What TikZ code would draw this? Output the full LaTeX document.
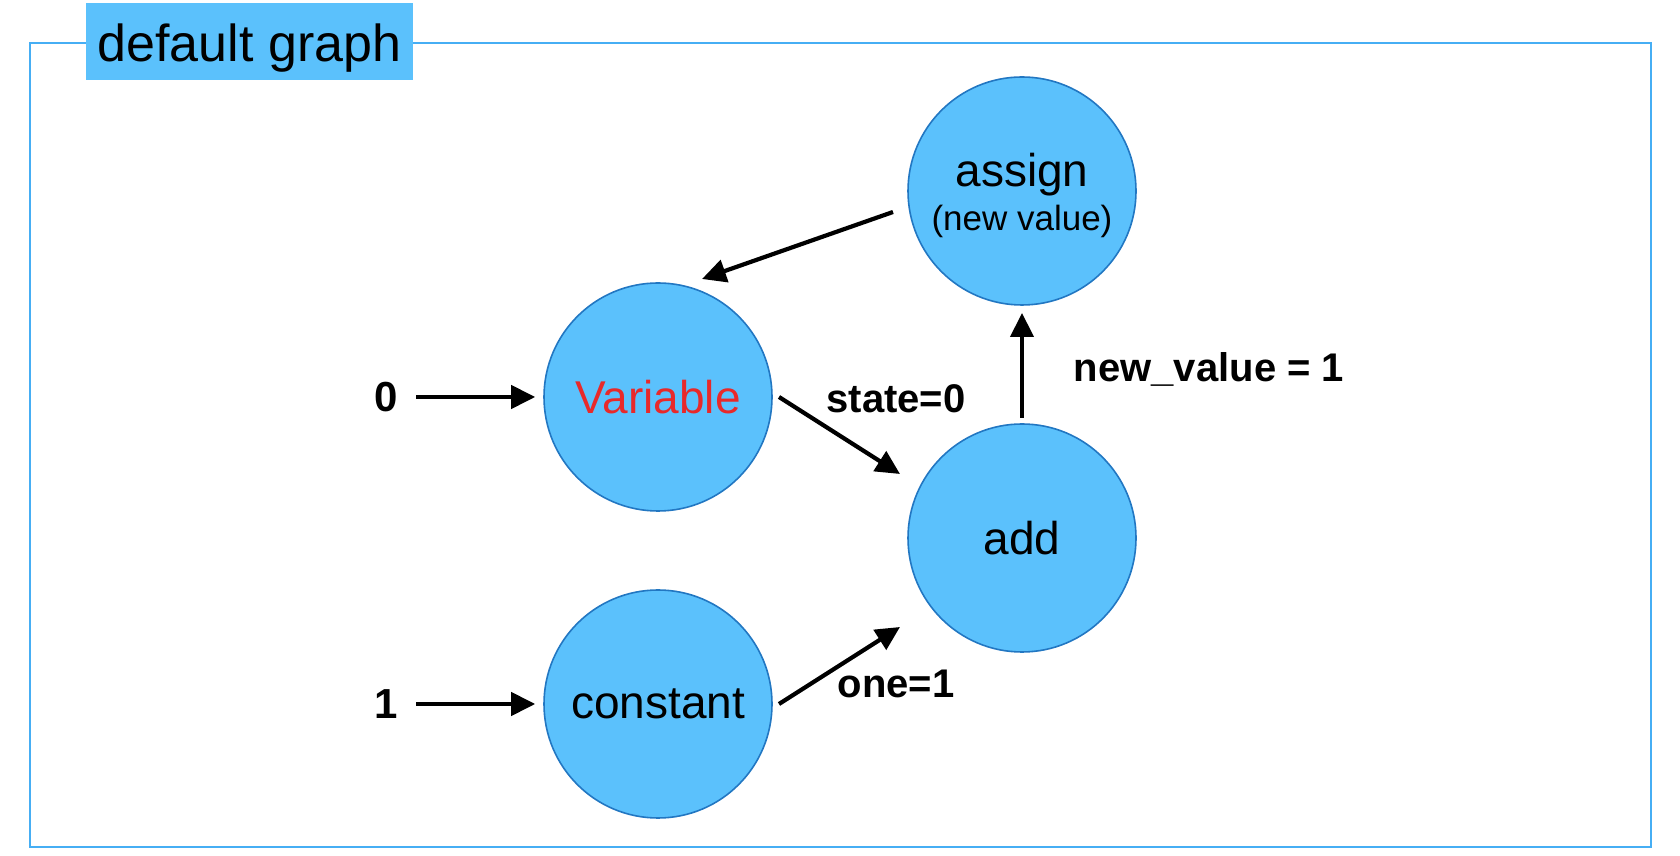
\documentclass[tikz,border=0pt]{standalone}
\usepackage{fontspec}
\setmainfont{Liberation Sans}
\usetikzlibrary{arrows.meta,calc}
\definecolor{nodefill}{HTML}{5BC1FC}
\definecolor{nodeedge}{HTML}{2277C2}
\definecolor{framecol}{HTML}{46AEF4}
\definecolor{varred}{HTML}{E8292A}
\tikzset{
  opnode/.style={circle, minimum size=228pt, inner sep=0pt, fill=nodefill, draw=nodeedge, line width=1.6pt, font=\fontsize{46}{55}\selectfont},
  nodetext/.style={inner sep=0pt, anchor=base},
  edgelabel/.style={inner sep=0pt, font=\fontsize{40}{48}\selectfont\bfseries},
  inlabel/.style={inner sep=0pt, font=\fontsize{42}{50}\selectfont\bfseries},
  arr/.style={line width=4.2pt, -{Triangle[length=24pt,width=23pt]}},
}
\begin{document}
\begin{tikzpicture}[x=1pt,y=1pt]
\useasboundingbox (0,0) rectangle (1680,856);
% frame
\draw[framecol, line width=2.2pt] (30,813) rectangle (1651,9);
\node[fill=nodefill, minimum width=327pt, minimum height=77pt, inner sep=0pt] (title) at (249.5,814.5) {};
\node[nodetext, font=\fontsize{52}{62}\selectfont] (titletext) at ([yshift=-20pt]title.center) {default graph};
% nodes
\node[opnode, text=varred] (var) at (658,459) {Variable};
\node[opnode] (const) at (658,152) {constant};
\node[opnode] (add) at (1022,318) {add};
\node[opnode] (assign) at (1022,665) {};
\node[nodetext, font=\fontsize{46}{55}\selectfont] (assignname) at ([yshift=4pt]assign.center) {assign};
\node[nodetext, font=\fontsize{35}{42}\selectfont] (assignsub) at ([yshift=-40pt]assign.center) {(new value)};
% input labels
\node[inlabel] (zero) at (386,459) {0};
\node[inlabel] (one) at (386,152) {1};
% edge labels
\node[edgelabel] (lstate) at (896,457) {state=0};
\node[edgelabel] (lone) at (896,172) {one=1};
\node[edgelabel] (lnew) at (1209,487) {new\_value = 1};
% connectors
\draw[arr] ([xshift=30pt]zero.center) -- ([xshift=-8pt]var.west);
\draw[arr] ([xshift=30pt]one.center) -- ([xshift=-8pt]const.west);
\draw[arr] ([xshift=121pt]var.center) -- ([shift={(-122pt,64pt)}]add.center);
\draw[arr] ([xshift=121pt]const.center) -- ([shift={(-122pt,-89pt)}]add.center);
\draw[arr] ([yshift=120pt]add.center) -- ([yshift=-122pt]assign.center);
\draw[arr] ([shift={(-129pt,-21pt)}]assign.center) -- ([shift={(44pt,118pt)}]var.center);
\end{tikzpicture}
\end{document}
